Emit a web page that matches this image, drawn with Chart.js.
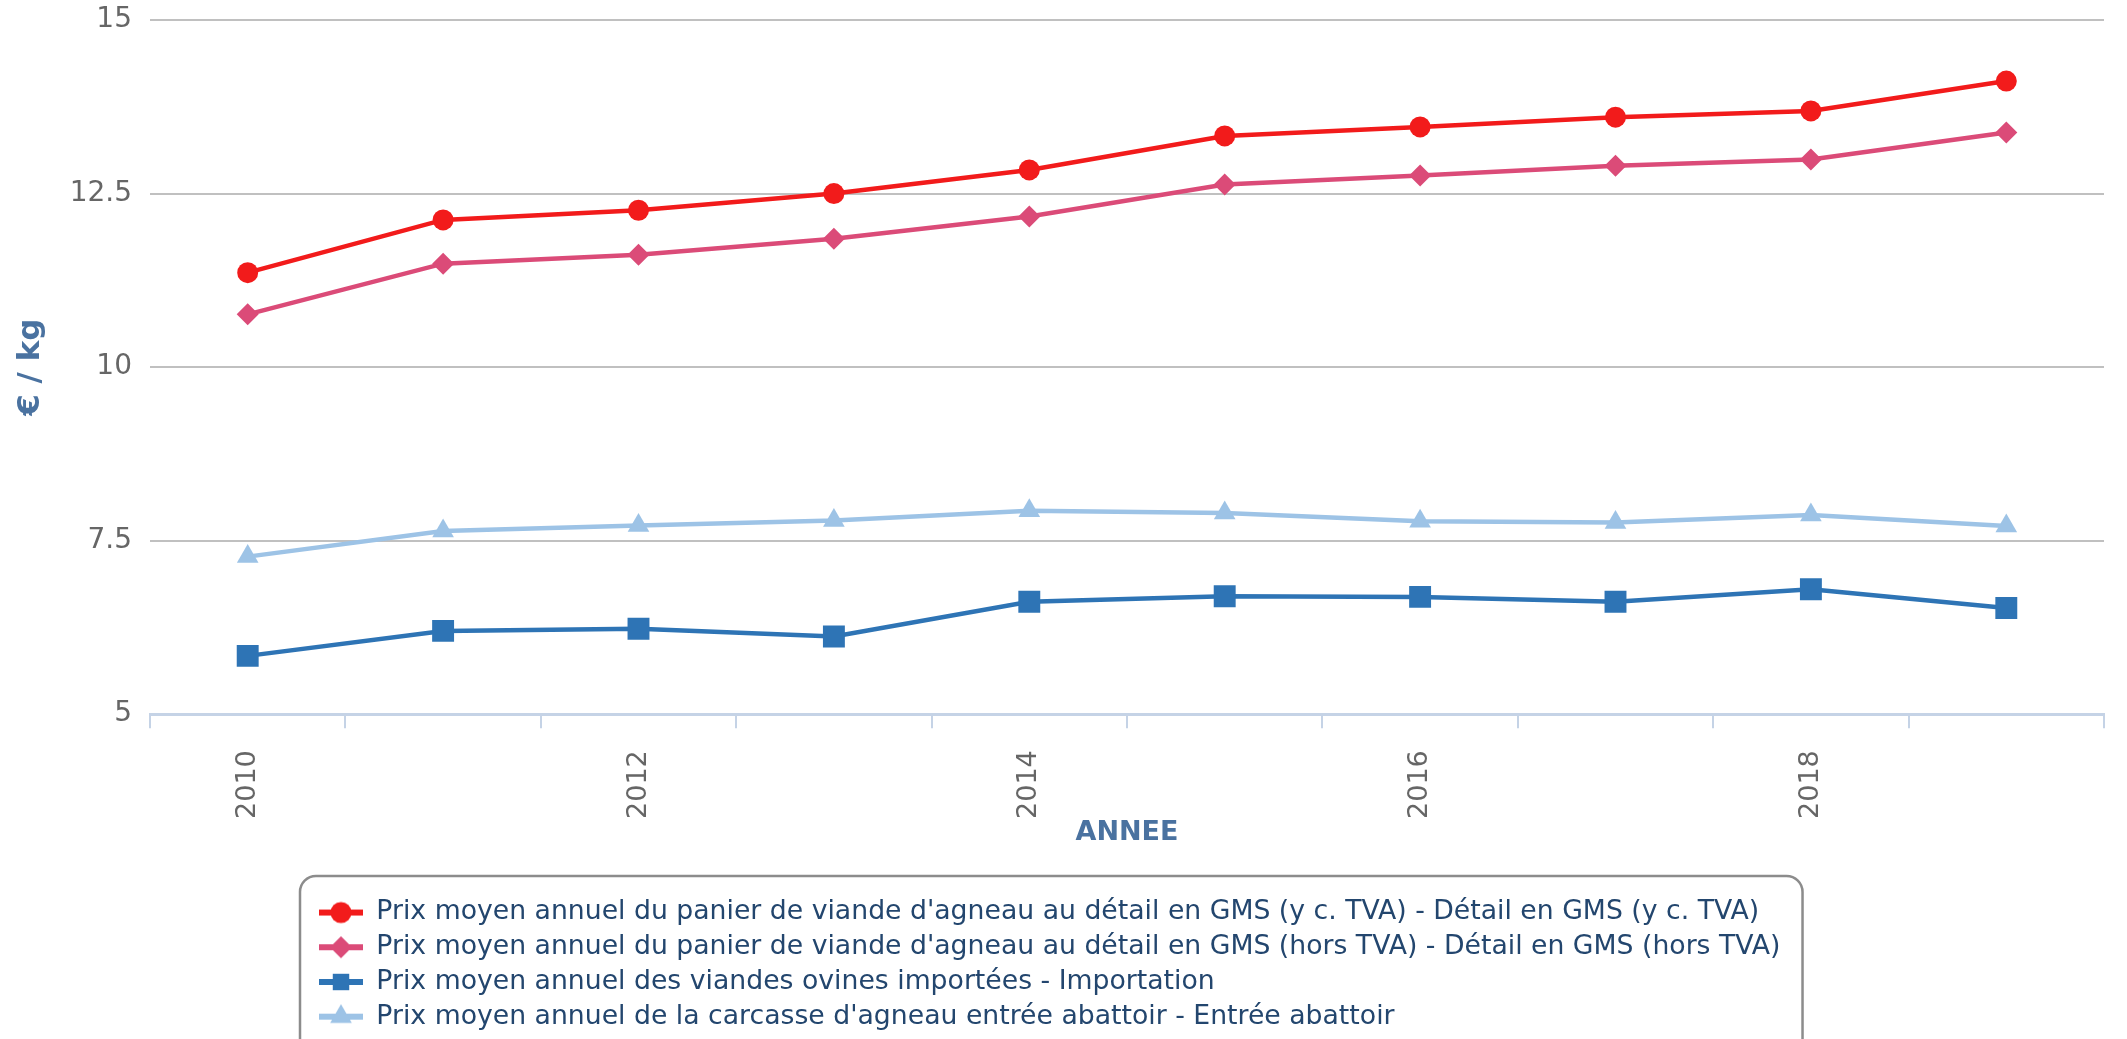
<!DOCTYPE html>
<html>
<head>
<meta charset="utf-8">
<title>Prix agneau</title>
<script src="https://cdn.jsdelivr.net/npm/chart.js@4.4.1/dist/chart.umd.min.js"></script>
<style>
  body { margin: 0; background: #fff; }
  canvas { display: block; }
</style>
</head>
<body>
<canvas id="chart-1" width="2127" height="1039"></canvas>
<script>
// data (€ / kg)
const years = ["2010", "2011", "2012", "2013", "2014", "2015", "2016", "2017", "2018", "2019"];
const prixGmsTtc = [11.36, 12.12, 12.26, 12.50, 12.84, 13.33, 13.46, 13.60, 13.69, 14.12];
const prixGmsHt = [10.76, 11.49, 11.62, 11.85, 12.17, 12.63, 12.76, 12.90, 12.99, 13.38];
const prixImport = [5.84, 6.20, 6.23, 6.12, 6.62, 6.70, 6.69, 6.62, 6.80, 6.53];
const prixAbattoir = [7.27, 7.64, 7.72, 7.79, 7.93, 7.90, 7.78, 7.76, 7.87, 7.71];

const seriesNames = [
  "Prix moyen annuel du panier de viande d'agneau au détail en GMS (y c. TVA) - Détail en GMS (y c. TVA)",
  "Prix moyen annuel du panier de viande d'agneau au détail en GMS (hors TVA) - Détail en GMS (hors TVA)",
  "Prix moyen annuel des viandes ovines importées - Importation",
  "Prix moyen annuel de la carcasse d'agneau entrée abattoir - Entrée abattoir",
];
const yTicks = { min: 5, max: 15, step: 2.5 };

const colors = ["#f21b1b", "#db4b78", "#2e74b5", "#9dc3e6"];
const markers = [
  { style: "circle", radius: 10.5 },
  { style: "rectRot", radius: 11 },
  { style: "rect", radius: 15.5 },
  { style: "triangle", radius: 12.5 },
];

Chart.defaults.font.family = "'DejaVu Sans', sans-serif";

// legend icons : short line with the marker on it
const legendIcons = colors.map((c, i) => {
  const cv = document.createElement("canvas");
  cv.width = 44;
  cv.height = 26;
  const g = cv.getContext("2d");
  g.strokeStyle = c;
  g.lineWidth = 6;
  g.beginPath();
  g.moveTo(0, 13);
  g.lineTo(44, 13);
  g.stroke();
  g.fillStyle = c;
  g.strokeStyle = c;
  Chart.helpers.drawPoint(g, {
    pointStyle: markers[i].style,
    radius: markers[i].radius * (i === 2 ? 0.75 : 1),
    rotation: 0,
    borderWidth: 0,
  }, 22, 13);
  return cv;
});

const LEGEND_X = 311;
const legendBox = {
  id: "legendBox",
  beforeDraw(chart) {
    const lg = chart.legend;
    lg.left = LEGEND_X;
    lg.top = lg.top + 1;
  },
  afterDraw(chart) {
    const lg = chart.legend;
    const ctx = chart.ctx;
    const opts = lg.options.labels;
    ctx.save();
    ctx.font = opts.font.size + "px " + Chart.defaults.font.family;
    let maxW = 0;
    lg.legendItems.forEach((it) => {
      maxW = Math.max(maxW, ctx.measureText(it.text).width);
    });
    const x0 = 300;
    const y0 = 876;
    const w = (LEGEND_X + opts.padding) + opts.pointStyleWidth + opts.font.size / 2 + maxW + 22 - x0;
    ctx.strokeStyle = "#8c8c8c";
    ctx.lineWidth = 2.5;
    ctx.beginPath();
    ctx.roundRect(x0, y0, w, 200, 16);
    ctx.stroke();
    ctx.restore();
  },
};

const datasets = [prixGmsTtc, prixGmsHt, prixImport, prixAbattoir].map((vals, i) => ({
  label: seriesNames[i],
  data: vals,
  borderColor: colors[i],
  backgroundColor: colors[i],
  borderWidth: 4.5,
  tension: 0,
  pointStyle: markers[i].style,
  pointRadius: markers[i].radius,
  pointBorderWidth: 0,
  pointBackgroundColor: colors[i],
}));

const ctx1 = document.getElementById("chart-1").getContext("2d");
const myChart = new Chart(ctx1, {
  type: "line",
  data: {
    labels: years,
    datasets: datasets,
  },
  options: {
    responsive: false,
    animation: false,
    layout: {
      padding: { top: 20, left: 0, right: 23, bottom: 0 },
    },
    plugins: {
      tooltip: { enabled: false },
      legend: {
        position: "bottom",
        align: "start",
        fullSize: false,
        labels: {
          usePointStyle: true,
          pointStyleWidth: 44,
          padding: 8,
          color: "#23466e",
          font: { size: 26.7 },
          generateLabels: (chart) =>
            Chart.defaults.plugins.legend.labels.generateLabels(chart).map((item, i) => ({
              ...item,
              pointStyle: legendIcons[i],
            })),
        },
      },
    },
    scales: {
      x: {
        offset: true,
        afterFit: (scale) => {
          scale.height = 176;
          scale.paddingLeft = 0;
          scale.paddingRight = 0;
        },
        grid: {
          offset: true,
          drawOnChartArea: false,
          drawTicks: true,
          tickLength: 14,
          color: "#c5d3e6",
          lineWidth: 2,
        },
        border: { color: "#c5d3e6", width: 3 },
        ticks: {
          autoSkip: false,
          maxRotation: 90,
          minRotation: 90,
          padding: 22,
          color: "#666666",
          font: { size: 27 },
          callback: function (value, index) {
            return index % 2 === 0 ? this.getLabelForValue(value) : "";
          },
        },
        title: {
          display: true,
          text: "ANNEE",
          color: "#4a72a0",
          font: { size: 27, weight: "bold" },
          padding: { top: 0, bottom: 41 },
        },
      },
      y: {
        min: yTicks.min,
        max: yTicks.max,
        afterFit: (scale) => {
          scale.width = 150;
          scale.paddingTop = 0;
          scale.paddingBottom = 0;
        },
        grid: {
          drawTicks: false,
          lineWidth: 2,
          color: (c) => (c.tick && c.tick.value === yTicks.min ? "rgba(0,0,0,0)" : "#c0c0c0"),
        },
        border: { display: false },
        ticks: {
          stepSize: yTicks.step,
          padding: 18,
          color: "#666666",
          font: { size: 28 },
        },
        title: {
          display: true,
          text: "€ / kg",
          color: "#4a72a0",
          font: { size: 31, weight: "bold" },
          padding: { top: 12, bottom: 0 },
        },
      },
    },
  },
  plugins: [legendBox],
});
</script>
</body>
</html>
